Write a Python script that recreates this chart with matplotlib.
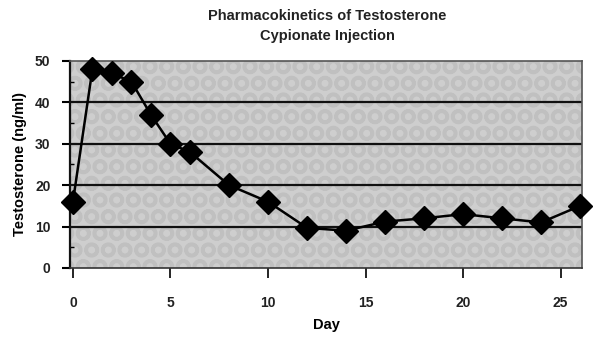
import matplotlib
matplotlib.use("Agg")
import matplotlib.pyplot as plt
from matplotlib.ticker import MultipleLocator

days = [0, 1, 2, 3, 4, 5, 6, 8, 10, 12, 14, 16, 18, 20, 22, 24, 26]
testosterone = [16, 48, 47, 45, 37, 30, 28, 20, 16, 9.7, 9, 11.2, 12, 13, 12, 11, 15]
x_ticks = [0, 5, 10, 15, 20, 25]
y_ticks = [0, 10, 20, 30, 40, 50]
title = "Pharmacokinetics of Testosterone\nCypionate Injection"

plt.rcParams['font.family'] = ['Liberation Sans', 'DejaVu Sans']
plt.rcParams['hatch.linewidth'] = 2.5

fig = plt.figure(figsize=(6.06, 3.6), dpi=100)
ax = fig.add_axes([0.1155, 0.2556, 0.845, 0.575])
ax.set_facecolor('#cecece')
ax.patch.set_hatch('O')
ax.patch.set_edgecolor('#c0c0c0')

ax.set_xlim(-0.15, 26.1)
ax.set_ylim(0, 50)
for y in y_ticks[1:-1]:
    ax.axhline(y, color='#111111', lw=1.6, zorder=1)

ax.plot(days, testosterone, color='black', lw=1.8, marker='D', ms=12,
        markerfacecolor='black', markeredgecolor='black', zorder=3, clip_on=False)

ax.set_xticks(x_ticks)
ax.set_yticks(y_ticks)
ax.yaxis.set_minor_locator(MultipleLocator(5))
ax.tick_params(axis='x', direction='out', length=7, width=1.2, pad=13, labelsize=10)
ax.tick_params(axis='y', which='major', direction='out', length=6, width=1.5, pad=8, labelsize=10)
ax.tick_params(axis='y', which='minor', direction='in', length=3, width=1.0)
for lab in ax.get_xticklabels() + ax.get_yticklabels():
    lab.set_fontweight('bold')
    lab.set_color('#222222')

for sp in ax.spines.values():
    sp.set_color('#555555')
    sp.set_linewidth(1.2)
ax.spines['left'].set_color('#111111')
ax.spines['left'].set_linewidth(1.6)
ax.spines['bottom'].set_color('#333333')

ax.set_xlabel('Day', fontsize=10.5, fontweight='bold', labelpad=6)
ax.set_ylabel('Testosterone (ng/ml)', fontsize=10.5, fontweight='bold', labelpad=6)
fig.text(0.54, 0.975, title, ha='center', va='top', fontsize=10.5, fontweight='bold',
         color='#222222', linespacing=1.55)

fig.savefig('out.png', dpi=100)
